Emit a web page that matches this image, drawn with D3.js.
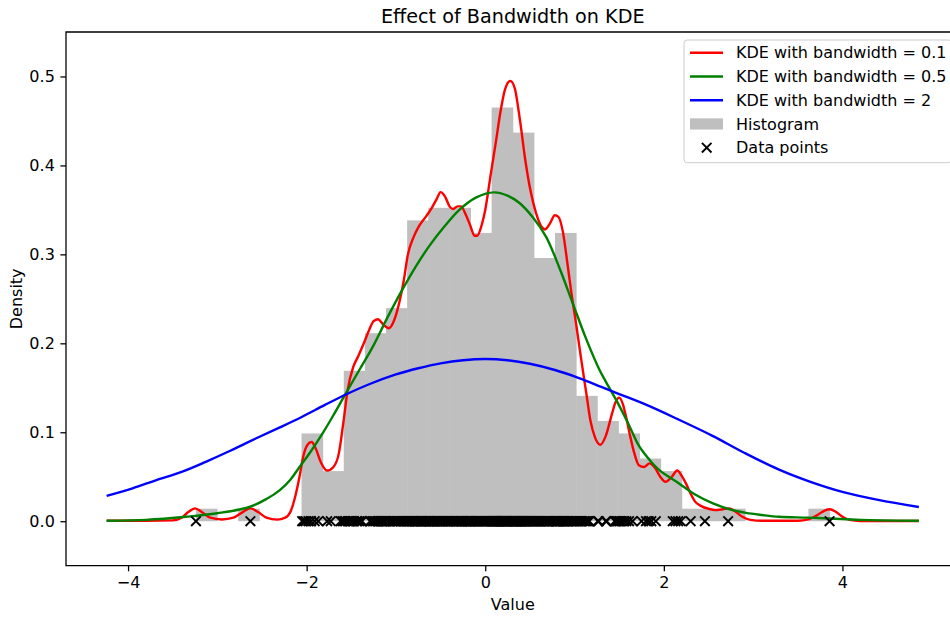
<!DOCTYPE html>
<html>
<head>
<meta charset="utf-8">
<script src="https://cdn.jsdelivr.net/npm/d3@7"></script>
<style>
  body { margin: 0; background: #fff; }
  svg { display: block; font-family: "DejaVu Sans", sans-serif; }
</style>
</head>
<body>
<script>
// raw sample (300 points)
const dataPoints = [
  -3.24, -2.63,
  -2.05, -2.03, -2.01, -1.98, -1.95, -1.91, -1.87,
  -1.77, -1.73, -1.62, -1.6,
  -1.58, -1.565, -1.54, -1.52, -1.51, -1.49, -1.47, -1.44, -1.43, -1.41, -1.39, -1.38,
  -1.29, -1.28, -1.26, -1.245, -1.23, -1.21, -1.2, -1.19, -1.17, -1.16, -1.15, -1.14, -1.13, -1.125, -1.115,
  -1.105, -1.09, -1.075, -1.06, -1.04, -1.03, -1.01, -0.995, -0.98, -0.965, -0.95, -0.93, -0.92, -0.91, -0.9, -0.885, -0.878,
  -0.87, -0.862, -0.85, -0.845, -0.83, -0.82, -0.815, -0.8, -0.79, -0.78, -0.77, -0.755, -0.75, -0.74, -0.725, -0.715, -0.71, -0.7, -0.69, -0.68, -0.67, -0.66, -0.65, -0.64,
  -0.635, -0.625, -0.62, -0.61, -0.6, -0.59, -0.58, -0.57, -0.565, -0.55, -0.54, -0.535, -0.52, -0.51, -0.5, -0.49, -0.48, -0.47, -0.465, -0.45, -0.44, -0.43, -0.42, -0.41, -0.405,
  -0.395, -0.385, -0.37, -0.36, -0.355, -0.34, -0.33, -0.32, -0.315, -0.3, -0.29, -0.28, -0.27, -0.26, -0.255, -0.24, -0.23, -0.22, -0.21, -0.2, -0.195, -0.185, -0.18, -0.17, -0.165,
  -0.16, -0.15, -0.14, -0.13, -0.12, -0.11, -0.1, -0.09, -0.08, -0.07, -0.06, -0.05, -0.04, -0.03, -0.02, -0.01, 0.0, 0.01, 0.02, 0.03, 0.045, 0.055, 0.065,
  0.075, 0.08, 0.085, 0.09, 0.1, 0.105, 0.11, 0.12, 0.125, 0.13, 0.14, 0.145, 0.15, 0.16, 0.165, 0.17, 0.18, 0.185, 0.19, 0.2, 0.205, 0.21, 0.22, 0.225, 0.23, 0.24, 0.245, 0.25, 0.26, 0.27, 0.28, 0.29, 0.3,
  0.31, 0.315, 0.32, 0.33, 0.335, 0.34, 0.35, 0.355, 0.36, 0.37, 0.375, 0.38, 0.39, 0.395, 0.4, 0.41, 0.415, 0.42, 0.43, 0.44, 0.445, 0.45, 0.46, 0.47, 0.48, 0.49, 0.5, 0.51, 0.52, 0.53, 0.54,
  0.55, 0.56, 0.57, 0.58, 0.59, 0.6, 0.61, 0.62, 0.63, 0.64, 0.65, 0.66, 0.67, 0.68, 0.69, 0.7, 0.71, 0.72, 0.74, 0.755, 0.77,
  0.785, 0.79, 0.8, 0.805, 0.81, 0.82, 0.83, 0.84, 0.85, 0.86, 0.87, 0.88, 0.89, 0.9, 0.91, 0.92, 0.93, 0.945, 0.96, 0.97, 0.98, 0.995, 1.01,
  1.025, 1.04, 1.06, 1.075, 1.09, 1.11, 1.125, 1.14, 1.155, 1.165,
  1.26, 1.27, 1.35, 1.36, 1.45, 1.46, 1.47, 1.485,
  1.5, 1.51, 1.53, 1.55, 1.58, 1.61, 1.65,
  1.75, 1.8, 1.83, 1.86, 1.91,
  2.1, 2.13, 2.16, 2.19,
  2.3, 2.46, 2.72, 3.856
];

// histogram: 30 bins between min and max, counts per bin
const histMin = -3.24;
const histMax = 3.856;
const histCounts = [1, 0, 1, 0, 0, 7, 4, 12, 15, 17, 24, 25, 25, 23, 33,
                    31, 21, 23, 10, 8, 7, 5, 4, 1, 1, 1, 0, 0, 0, 1];

// KDE curves, [value, density]
const kdeBw01 = [
  [-4.24, 0.0005], [-3.8, 0.0005], [-3.5, 0.001], [-3.4, 0.004], [-3.33, 0.01], [-3.25, 0.0145],
  [-3.17, 0.01], [-3.08, 0.004], [-2.95, 0.002], [-2.82, 0.004], [-2.72, 0.01], [-2.63, 0.0145],
  [-2.54, 0.01], [-2.45, 0.004], [-2.33, 0.0018], [-2.24, 0.004], [-2.18, 0.011], [-2.13, 0.027],
  [-2.08, 0.05], [-2.04, 0.072], [-1.99, 0.086], [-1.945, 0.089], [-1.9, 0.082], [-1.84, 0.066],
  [-1.77, 0.057], [-1.7, 0.061], [-1.64, 0.076], [-1.59, 0.11], [-1.54, 0.148], [-1.48, 0.173],
  [-1.42, 0.186], [-1.36, 0.2], [-1.3, 0.215], [-1.25, 0.225], [-1.2, 0.227], [-1.15, 0.222],
  [-1.08, 0.217], [-1.02, 0.226], [-0.96, 0.247], [-0.91, 0.272], [-0.87, 0.298], [-0.8, 0.32],
  [-0.74, 0.332], [-0.66, 0.343], [-0.6, 0.352], [-0.54, 0.363], [-0.5, 0.37], [-0.45, 0.365],
  [-0.4, 0.354], [-0.36, 0.351], [-0.31, 0.354], [-0.27, 0.354], [-0.22, 0.345], [-0.17, 0.333],
  [-0.12, 0.321], [-0.09, 0.321], [-0.04, 0.333], [0.0, 0.35], [0.06, 0.389], [0.12, 0.427],
  [0.17, 0.46], [0.22, 0.485], [0.28, 0.495], [0.33, 0.487], [0.39, 0.45], [0.45, 0.405],
  [0.51, 0.37], [0.57, 0.346], [0.63, 0.331], [0.67, 0.328], [0.72, 0.334], [0.78, 0.344],
  [0.82, 0.342], [0.87, 0.325], [0.92, 0.29], [0.96, 0.26], [1.02, 0.22], [1.07, 0.185],
  [1.13, 0.145], [1.18, 0.112], [1.23, 0.094], [1.29, 0.086], [1.35, 0.096], [1.42, 0.121],
  [1.46, 0.134], [1.5, 0.139], [1.54, 0.132], [1.58, 0.116], [1.62, 0.097], [1.66, 0.08],
  [1.72, 0.063], [1.78, 0.061], [1.84, 0.065], [1.9, 0.06], [1.96, 0.05], [2.02, 0.0443],
  [2.09, 0.05], [2.15, 0.057], [2.2, 0.051], [2.25, 0.042], [2.3, 0.031], [2.35, 0.022],
  [2.42, 0.017], [2.5, 0.014], [2.58, 0.0125], [2.66, 0.0135], [2.73, 0.0143], [2.8, 0.011],
  [2.88, 0.005], [2.97, 0.0015], [3.1, 0.0005], [3.5, 0.0005], [3.62, 0.002], [3.72, 0.007],
  [3.8, 0.012], [3.86, 0.0135], [3.92, 0.011], [4.0, 0.005], [4.08, 0.0015], [4.2, 0.0003],
  [4.856, 0.0003]
];
const kdeBw05 = [
  [-4.24, 0.0005], [-3.8, 0.0015], [-3.35, 0.005], [-3.0, 0.009], [-2.64, 0.016], [-2.45, 0.025],
  [-2.3, 0.035], [-2.18, 0.047], [-2.08, 0.061], [-1.95, 0.079], [-1.82, 0.099], [-1.69, 0.121],
  [-1.56, 0.144], [-1.41, 0.17], [-1.26, 0.196], [-1.1, 0.228], [-0.93, 0.26], [-0.78, 0.286],
  [-0.63, 0.309], [-0.46, 0.331], [-0.29, 0.35], [-0.1, 0.364], [0.1, 0.3697], [0.25, 0.366],
  [0.38, 0.358], [0.53, 0.342], [0.68, 0.32], [0.83, 0.285], [0.98, 0.245], [1.13, 0.205],
  [1.28, 0.17], [1.35, 0.157], [1.5, 0.13], [1.61, 0.108], [1.72, 0.085], [1.84, 0.069],
  [1.95, 0.0574], [2.17, 0.0424], [2.35, 0.03], [2.55, 0.02], [2.75, 0.013], [2.92, 0.0094],
  [3.1, 0.007], [3.29, 0.005], [3.6, 0.004], [3.86, 0.003], [4.2, 0.0015], [4.856, 0.0005]
];
const kdeBw2 = [
  [-4.24, 0.0285], [-3.95, 0.037], [-3.69, 0.046], [-3.4, 0.0555], [-3.13, 0.0668], [-2.85, 0.0795],
  [-2.57, 0.093], [-2.3, 0.1055], [-2.05, 0.1175], [-1.8, 0.1305], [-1.56, 0.1425], [-1.3, 0.154],
  [-1.0, 0.165], [-0.75, 0.172], [-0.5, 0.1775], [-0.25, 0.181], [0.0, 0.1824], [0.25, 0.181],
  [0.5, 0.177], [0.78, 0.17], [1.05, 0.161], [1.3, 0.151], [1.5, 0.143], [1.8, 0.131],
  [2.15, 0.115], [2.545, 0.096], [2.9, 0.077], [3.29, 0.058], [3.65, 0.044], [4.0, 0.033],
  [4.4, 0.024], [4.856, 0.016]
];

const xTicks = [-4, -2, 0, 2, 4];
const yTicks = [0, 0.1, 0.2, 0.3, 0.4, 0.5];

const legendItems = [
  {label: "KDE with bandwidth = 0.1", type: "line", color: "red"},
  {label: "KDE with bandwidth = 0.5", type: "line", color: "green"},
  {label: "KDE with bandwidth = 2", type: "line", color: "blue"},
  {label: "Histogram", type: "patch", color: "gray"},
  {label: "Data points", type: "marker", color: "black"}
];

const width = 950, height = 619;
const plot = {left: 66, right: 959.5, top: 32, bottom: 565.7};

const svg = d3.select("body").append("svg")
    .attr("width", width)
    .attr("height", height);

svg.append("rect").attr("width", width).attr("height", height).attr("fill", "#fff");

const x = d3.scaleLinear().domain([-4.695, 5.311]).range([plot.left, plot.right]);
const y = d3.scaleLinear().domain([-0.05, 0.55]).range([plot.bottom, plot.top]);

// histogram bars (opacity on the group so touching bars show no seams)
const binWidth = (histMax - histMin) / histCounts.length;
const total = d3.sum(histCounts);
const bins = histCounts.map((c, i) => ({
    x0: histMin + i * binWidth,
    x1: histMin + (i + 1) * binWidth,
    density: c / (total * binWidth)
})).filter(b => b.density > 0);

svg.append("g")
    .attr("opacity", 0.5)
    .selectAll("rect")
    .data(bins)
    .join("rect")
    .attr("x", d => x(d.x0))
    .attr("width", d => x(d.x1) - x(d.x0) + 0.5)
    .attr("y", d => y(d.density))
    .attr("height", d => y(0) - y(d.density))
    .attr("fill", "gray");

// kde lines
const lineSharp = d3.line()
    .x(d => x(d[0]))
    .y(d => y(d[1]))
    .curve(d3.curveMonotoneX);
const lineSmooth = d3.line()
    .x(d => x(d[0]))
    .y(d => y(d[1]))
    .curve(d3.curveCatmullRom.alpha(0.5));

[[kdeBw01, "red", lineSharp], [kdeBw05, "green", lineSmooth], [kdeBw2, "blue", lineSmooth]]
    .forEach(([pts, color, gen]) => {
        svg.append("path")
            .attr("d", gen(pts))
            .attr("fill", "none")
            .attr("stroke", color)
            .attr("stroke-width", 2.4);
    });

// data points as x markers on the baseline
const h = 4.8;
const xMark = `M${-h},${-h}L${h},${h}M${-h},${h}L${h},${-h}`;
svg.append("g").selectAll("path")
    .data(dataPoints)
    .join("path")
    .attr("transform", d => `translate(${x(d)},${y(0)})`)
    .attr("d", xMark)
    .attr("stroke", "black")
    .attr("stroke-width", 1.9)
    .attr("fill", "none");

// axes
const xAxis = svg.append("g")
    .attr("transform", `translate(0,${plot.bottom})`)
    .call(d3.axisBottom(x).tickValues(xTicks).tickFormat(d3.format("d"))
        .tickSize(5.6).tickPadding(5.6).tickSizeOuter(0));
const yAxis = svg.append("g")
    .attr("transform", `translate(${plot.left},0)`)
    .call(d3.axisLeft(y).tickValues(yTicks).tickFormat(d3.format(".1f"))
        .tickSize(5.6).tickPadding(5.6).tickSizeOuter(0));

[xAxis, yAxis].forEach(g => {
    g.select(".domain").remove();
    g.selectAll(".tick line").attr("stroke", "black").attr("stroke-width", 1.28);
    g.selectAll(".tick text")
        .attr("fill", "black")
        .attr("font-size", "16px")
        .attr("font-family", "DejaVu Sans");
});

// spines
svg.append("path")
    .attr("d", `M${plot.right},${plot.top}H${plot.left}V${plot.bottom}H${plot.right}V${plot.top}`)
    .attr("fill", "none")
    .attr("stroke", "black")
    .attr("stroke-width", 1.28);

// labels
svg.append("text")
    .attr("x", (plot.left + plot.right) / 2)
    .attr("y", 23.3)
    .attr("text-anchor", "middle")
    .attr("font-size", "19.2px")
    .text("Effect of Bandwidth on KDE");

svg.append("text")
    .attr("x", (plot.left + plot.right) / 2)
    .attr("y", 609.5)
    .attr("text-anchor", "middle")
    .attr("font-size", "16px")
    .text("Value");

svg.append("text")
    .attr("transform", `translate(21.5,${(plot.top + plot.bottom) / 2}) rotate(-90)`)
    .attr("text-anchor", "middle")
    .attr("font-size", "16px")
    .text("Density");

// legend
const legend = svg.append("g").attr("transform", "translate(684,40)");
legend.append("rect")
    .attr("width", 267.5)
    .attr("height", 122.7)
    .attr("rx", 3.2)
    .attr("fill", "white")
    .attr("fill-opacity", 0.8)
    .attr("stroke", "#cccccc")
    .attr("stroke-width", 1);

const rows = legend.selectAll("g.row")
    .data(legendItems)
    .join("g")
    .attr("class", "row")
    .attr("transform", (d, i) => `translate(0,${12.7 + i * 23.75})`);

rows.filter(d => d.type === "line").append("line")
    .attr("x1", 6).attr("x2", 39)
    .attr("stroke", d => d.color)
    .attr("stroke-width", 2.4);

rows.filter(d => d.type === "patch").append("rect")
    .attr("x", 6).attr("y", -5.6)
    .attr("width", 33).attr("height", 11.2)
    .attr("fill", d => d.color)
    .attr("fill-opacity", 0.5);

rows.filter(d => d.type === "marker").append("path")
    .attr("transform", "translate(22.7,0)")
    .attr("d", xMark)
    .attr("stroke", d => d.color)
    .attr("stroke-width", 1.9)
    .attr("fill", "none");

rows.append("text")
    .attr("x", 52)
    .attr("dy", "0.36em")
    .attr("font-size", "16px")
    .text(d => d.label);
</script>
</body>
</html>
